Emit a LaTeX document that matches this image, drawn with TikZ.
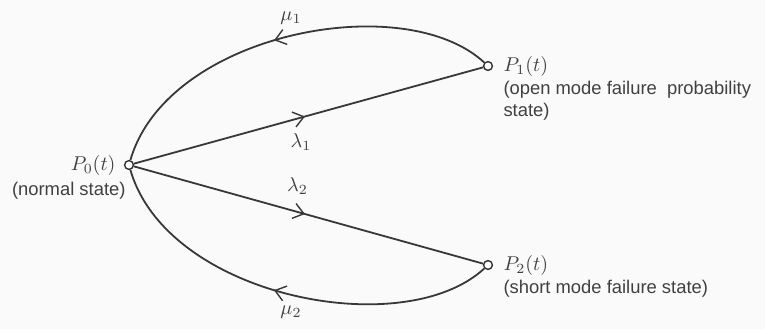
\documentclass[tikz,border=0pt]{standalone}
\usepackage{fontspec}
\setmainfont{Liberation Sans}
\usetikzlibrary{arrows.meta, positioning, decorations.markings}
\tikzset{
  statept/.style={circle, draw=black!80, fill=white, line width=0.7pt,
                  inner sep=0pt, minimum size=4.4pt},
  statetext/.style={font=\fontsize{9.2}{11}\selectfont, text=black!75,
                    inner sep=1pt, align=left},
  ratetext/.style={font=\fontsize{10}{12}\selectfont, text=black!75, inner sep=1pt},
  transarr/.style={line width=0.9pt, draw=black!78, postaction={decorate},
                   decoration={markings, mark=at position #1 with
                   {\arrow{Straight Barb[length=1.8mm, width=2.7mm, line width=0.7pt]}}}},
}

\begin{document}
\begin{tikzpicture}[x=0.5pt, y=-0.5pt]
  \path[use as bounding box, fill=black!2] (0,0) rectangle (765,329);

  \node[statept] (p0) at (129,165) {};
  \node[statept] (p1) at (488,66) {};
  \node[statept] (p2) at (488,265) {};

  % state labels
  \node[ratetext, left=3pt of p0] (p0lab) {$P_0(t)$};
  \node[statetext, below=1pt of p0lab.south east, anchor=north east, xshift=5pt] (p0txt) {(normal state)};
  \node[ratetext, right=4pt of p1] (p1lab) {$P_1(t)$};
  \node[statetext, below=0pt of p1lab.south west, anchor=north west] (p1txt) {(open mode failure\ \ probability\\state)};
  \node[ratetext, right=4pt of p2] (p2lab) {$P_2(t)$};
  \node[statetext, below=0pt of p2lab.south west, anchor=north west] (p2txt) {(short mode failure state)};

  % transitions
  \draw[transarr=0.53] (p1) .. controls +(-84,-78) and +(38,-132) .. node[ratetext, pos=0.5, above=4pt] (mu1) {$\mu_1$} (p0);
  \draw[transarr=0.49] (p0) -- node[ratetext, pos=0.49, below=7pt, xshift=-2pt] (la1) {$\lambda_1$} (p1);
  \draw[transarr=0.49] (p0) -- node[ratetext, pos=0.48, above=8pt, xshift=-2pt] (la2) {$\lambda_2$} (p2);
  \draw[transarr=0.53] (p2) .. controls +(-84,78) and +(38,132) .. node[ratetext, pos=0.5, below=4pt] (mu2) {$\mu_2$} (p0);
\end{tikzpicture}
\end{document}
